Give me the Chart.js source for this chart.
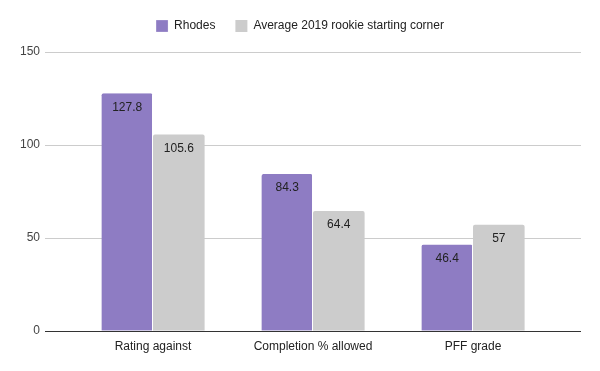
<!DOCTYPE html>
<html>
<head>
<meta charset="utf-8">
<script src="https://cdn.jsdelivr.net/npm/chart.js@4"></script>
<style>
  html, body { margin: 0; padding: 0; background: #fff; }
  #wrap { width: 600px; height: 371px; }
</style>
</head>
<body>
<div id="wrap"><canvas id="chart" width="600" height="371"></canvas></div>
<script>
const categories = ['Rating against', 'Completion % allowed', 'PFF grade']
const rhodes = [127.8, 84.3, 46.4]
const rookieAverage = [105.6, 64.4, 57]
const yTicks = [0, 50, 100, 150]

const FONT = 'Arial, "Liberation Sans", sans-serif'

// gridlines run wider than the category area, like the original
const gridPlugin = {
    id: 'wideGrid',
    beforeDatasetsDraw(chart) {
        const { ctx, chartArea, scales } = chart
        const left = chartArea.left - 28
        const right = chartArea.right + 28
        ctx.save()
        yTicks.forEach(v => {
            const y = Math.round(scales.y.getPixelForValue(v)) + 0.5
            ctx.strokeStyle = v === 0 ? '#333333' : '#cccccc'
            ctx.lineWidth = 1
            ctx.beginPath()
            ctx.moveTo(left, y)
            ctx.lineTo(right, y)
            ctx.stroke()
        })
        ctx.restore()
    }
}

const labelPlugin = {
    id: 'barValues',
    afterDatasetsDraw(chart) {
        const { ctx } = chart
        ctx.save()
        ctx.font = '12px ' + FONT
        ctx.fillStyle = '#222222'
        ctx.textAlign = 'center'
        ctx.textBaseline = 'middle'
        chart.data.datasets.forEach((ds, i) => {
            chart.getDatasetMeta(i).data.forEach((bar, j) => {
                ctx.fillText(String(ds.data[j]), bar.x, bar.y + 14)
            })
        })
        ctx.restore()
    }
}

new Chart(document.getElementById('chart'), {
    type: 'bar',
    data: {
        labels: categories,
        datasets: [
            {
                label: 'Rhodes',
                data: rhodes,
                backgroundColor: '#8e7cc3',
                borderColor: '#ffffff',
                borderWidth: { left: 0, right: 1, top: 0, bottom: 0 },
                borderRadius: { topLeft: 2, topRight: 2 },
                borderSkipped: 'bottom'
            },
            {
                label: 'Average 2019 rookie starting corner',
                data: rookieAverage,
                backgroundColor: '#cccccc',
                borderColor: '#ffffff',
                borderWidth: 0,
                borderRadius: { topLeft: 2, topRight: 2 },
                borderSkipped: 'bottom'
            }
        ]
    },
    options: {
        responsive: false,
        animation: false,
        events: [],
        layout: { padding: 0 },
        datasets: {
            bar: { categoryPercentage: 0.645, barPercentage: 1 }
        },
        scales: {
            x: {
                grid: { display: false, drawTicks: false },
                border: { display: false },
                ticks: { color: '#222222', font: { family: FONT, size: 12 }, padding: 9, maxRotation: 0 },
                afterFit: s => { s.height = 40 }
            },
            // empty top axis = gap between legend and plot
            xTop: {
                position: 'top',
                grid: { display: false, drawTicks: false },
                border: { display: false },
                ticks: { display: false },
                afterFit: s => { s.height = 10 }
            },
            y: {
                min: 0,
                max: 150,
                afterBuildTicks: s => { s.ticks = yTicks.map(v => ({ value: v })) },
                grid: { display: false, drawTicks: false },
                border: { display: false },
                ticks: { color: '#444444', font: { family: FONT, size: 12 }, padding: 33 },
                afterFit: s => { s.width = 73 }
            },
            // empty right-hand axis keeps the legend centred on the whole canvas
            yRight: {
                position: 'right',
                min: 0,
                max: 150,
                grid: { display: false, drawTicks: false },
                border: { display: false },
                ticks: { display: false },
                afterFit: s => { s.width = 47 }
            }
        },
        plugins: {
            tooltip: { enabled: false },
            legend: {
                position: 'top',
                labels: {
                    color: '#222222',
                    font: { family: FONT, size: 12 },
                    boxWidth: 12,
                    boxHeight: 12,
                    padding: 20
                }
            }
        }
    },
    plugins: [gridPlugin, labelPlugin]
})
</script>
</body>
</html>
